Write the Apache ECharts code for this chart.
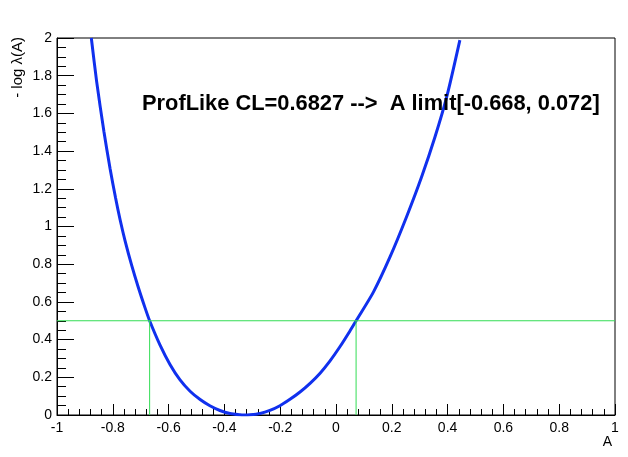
<!DOCTYPE html>
<html>
<head>
<meta charset="utf-8">
<script src="https://cdn.jsdelivr.net/npm/echarts@6/dist/echarts.min.js"></script>
<style>
html,body{margin:0;padding:0;background:#fff;}
#chart{width:628px;height:457px;}
</style>
</head>
<body>
<div id="chart"></div>
<script>
// Profile likelihood curve points (A, -log lambda(A))
var curveX = [-0.877,-0.858,-0.832,-0.810,-0.790,-0.774,-0.756,-0.732,-0.709,-0.685,-0.668,-0.631,-0.595,-0.559,-0.523,-0.487,-0.452,-0.416,-0.380,-0.344,-0.330,-0.308,-0.272,-0.237,-0.201,-0.165,-0.129,-0.093,-0.057,-0.022,0.014,0.050,0.072,0.134,0.194,0.253,0.307,0.355,0.397,0.444];
var curveY = [2.0,1.770,1.505,1.309,1.151,1.037,0.924,0.792,0.679,0.571,0.5,0.372,0.268,0.186,0.126,0.082,0.049,0.024,0.008,0.001,0.0,0.001,0.008,0.024,0.049,0.083,0.122,0.168,0.222,0.286,0.362,0.446,0.5,0.652,0.840,1.052,1.264,1.476,1.689,1.989];
var limits = [-0.668, 0.072];
var level = 0.5;
var xRange = [-1, 1];
var yRange = [0, 2];
var labelText = "ProfLike CL=0.6827 -->  A limit[-0.668, 0.072]";
var xTitle = "A";
var yTitle = "- log \u03bb(A)";

var curve = curveX.map(function(x, i){ return [x, curveY[i]]; });
var green = '#33dd55';
var font = 'Liberation Sans, Arial, Helvetica, sans-serif';

var chart = echarts.init(document.getElementById('chart'), null, {renderer:'canvas'});
chart.setOption({
  animation: false,
  backgroundColor: '#fff',
  grid: {left: 57, right: 13, top: 38, bottom: 42, show: true, borderColor: '#000', borderWidth: 1},
  xAxis: {
    type: 'value', min: xRange[0], max: xRange[1], interval: 0.2,
    axisLine: {show: true, onZero: false, lineStyle: {color: '#000', width: 1}},
    axisTick: {show: true, inside: true, length: 11, lineStyle: {color: '#000'}},
    minorTick: {show: true, splitNumber: 5, length: 6, lineStyle: {color: '#000'}},
    splitLine: {show: false},
    axisLabel: {color: '#000', fontSize: 14, fontFamily: font, margin: 6}
  },
  yAxis: {
    type: 'value', min: yRange[0], max: yRange[1], interval: 0.2,
    axisLine: {show: true, onZero: false, lineStyle: {color: '#000', width: 1}},
    axisTick: {show: true, inside: true, length: 17, lineStyle: {color: '#000'}},
    minorTick: {show: true, splitNumber: 4, length: 9, lineStyle: {color: '#000'}},
    splitLine: {show: false},
    axisLabel: {color: '#000', fontSize: 14, fontFamily: font, margin: 5}
  },
  graphic: [
    {type: 'text', x: 142, y: 104, style: {text: labelText, font: 'bold 21.85px ' + font, fill: '#000', verticalAlign: 'middle', align: 'left'}, z: 100},
    {type: 'text', x: 612, y: 442, style: {text: xTitle, font: '14px ' + font, fill: '#000', verticalAlign: 'middle', align: 'right'}},
    {type: 'text', x: 18, y: 37, rotation: Math.PI/2, style: {text: yTitle, font: '15px ' + font, fill: '#000', verticalAlign: 'middle', align: 'right'}}
  ],
  series: [
    {type: 'line', data: curve, symbol: 'none', smooth: 0.25, clip: true,
     lineStyle: {color: '#1030ee', width: 3}, z: 2},
    {type: 'line', data: [[xRange[0], level], [xRange[1], level]], symbol: 'none',
     lineStyle: {color: green, width: 1}, z: 3},
    {type: 'line', data: [[limits[0], yRange[0]], [limits[0], level]], symbol: 'none',
     lineStyle: {color: green, width: 1}, z: 3},
    {type: 'line', data: [[limits[1], yRange[0]], [limits[1], level]], symbol: 'none',
     lineStyle: {color: green, width: 1}, z: 3}
  ]
});
</script>
</body>
</html>
